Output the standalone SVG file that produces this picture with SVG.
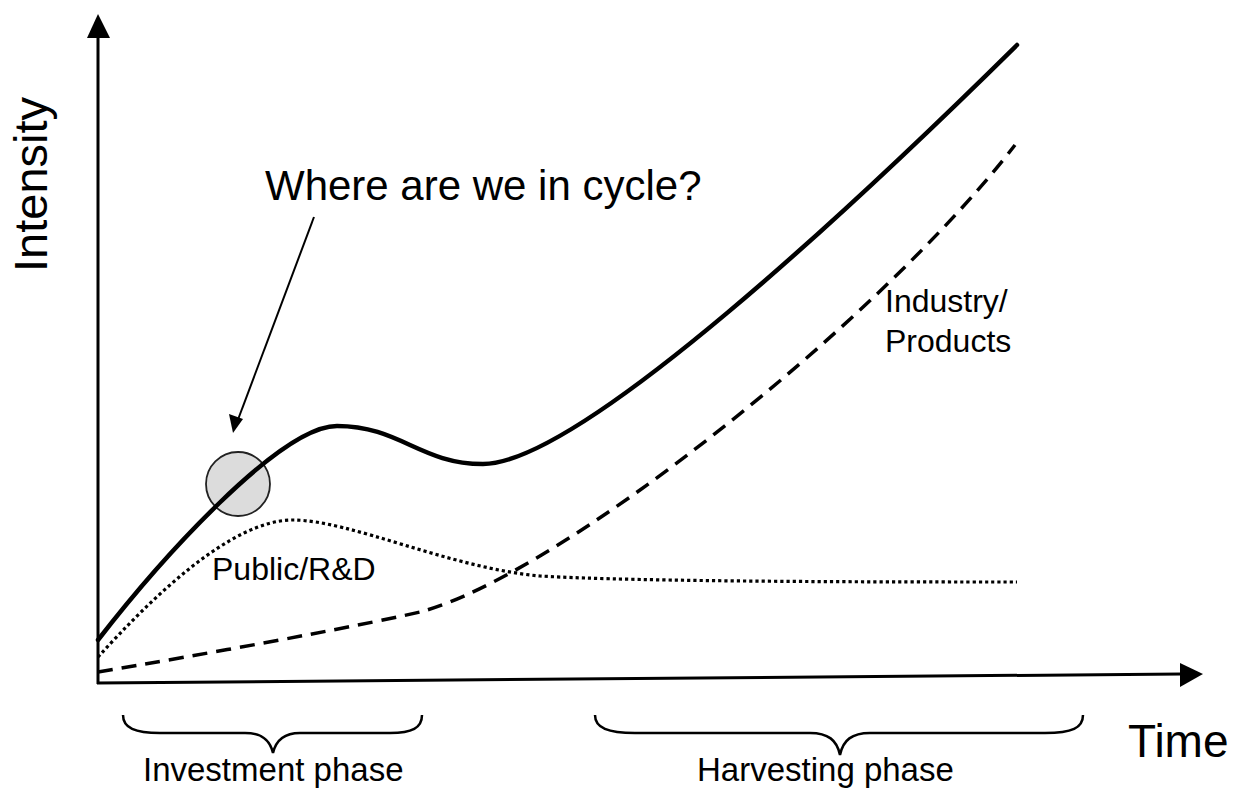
<svg xmlns="http://www.w3.org/2000/svg" width="1234" height="789" viewBox="0 0 1234 789">
<style>
text{font-family:"Liberation Sans",Arial,sans-serif;fill:#000}
.axis{stroke:#000;stroke-width:3;fill:none}
.solid{stroke:#000;stroke-width:4.5;fill:none;stroke-linecap:round}
.dash{stroke:#000;stroke-width:3.5;fill:none;stroke-dasharray:15 9}
.dot{stroke:#000;stroke-width:3.2;fill:none;stroke-dasharray:3.2 3}
.brace{stroke:#000;stroke-width:2.5;fill:none}
</style>
<rect width="1234" height="789" fill="#fff"/>
<g id="axes">
<line class="axis" x1="98" y1="684" x2="98" y2="36"/>
<polygon points="98,14 87,38 110,38" fill="#000"/>
<line class="axis" x1="97" y1="683" x2="1182" y2="674"/>
<polygon points="1203,674 1180,663 1180,687" fill="#000"/>
</g>
<g id="labels">
<text x="0" y="0" font-size="47" transform="translate(47,272) rotate(-90)">Intensity</text>
<text x="1128" y="757" font-size="46">Time</text>
</g>
<g id="marker-circle">
<circle cx="238" cy="484" r="32" fill="#dcdcdc" stroke="#222" stroke-width="1.8"/>
</g>
<g id="curves">
<path id="total" class="solid" d="M98,640 C160,560 280,426 337,426 C400,426 420,464 483,464 C580,464 860,200 1017,45"/>
<path id="public" class="dot" d="M98,657 C150,600 230,520 293,520 C350,520 450,568 540,576 C640,582 900,582 1017,582"/>
<path id="industry" class="dash" d="M98,672 C200,655 350,628 420,612 C560,575 880,320 1015,145"/>
</g>
<g id="question">
<text x="265" y="200" font-size="42">Where are we in cycle?</text>
</g>
<g id="connectors">
<line x1="314" y1="217" x2="236" y2="425" stroke="#000" stroke-width="2"/>
<polygon points="233,433 229,414 243,419" fill="#000"/>
</g>
<g id="public-label"><text x="212" y="580" font-size="32">Public/R&amp;D</text></g>
<g id="industry-label">
<text x="885" y="312" font-size="32">Industry/</text>
<text x="885" y="352" font-size="32">Products</text>
</g>
<g id="investment">
<path class="brace" d="M123,715 C123,728 135,733 160,733 L245,733 C262,733 270,740 273,753 C276,740 284,733 300,733 L390,733 C412,733 422,728 422,715"/>
<text x="143" y="781" font-size="33">Investment phase</text>
</g>
<g id="harvesting">
<path class="brace" d="M595,715 C595,728 608,733 635,733 L810,733 C828,733 837,740 840,755 C843,740 852,733 870,733 L1045,733 C1072,733 1083,728 1083,715"/>
<text x="697" y="781" font-size="33">Harvesting phase</text>
</g>
</svg>
